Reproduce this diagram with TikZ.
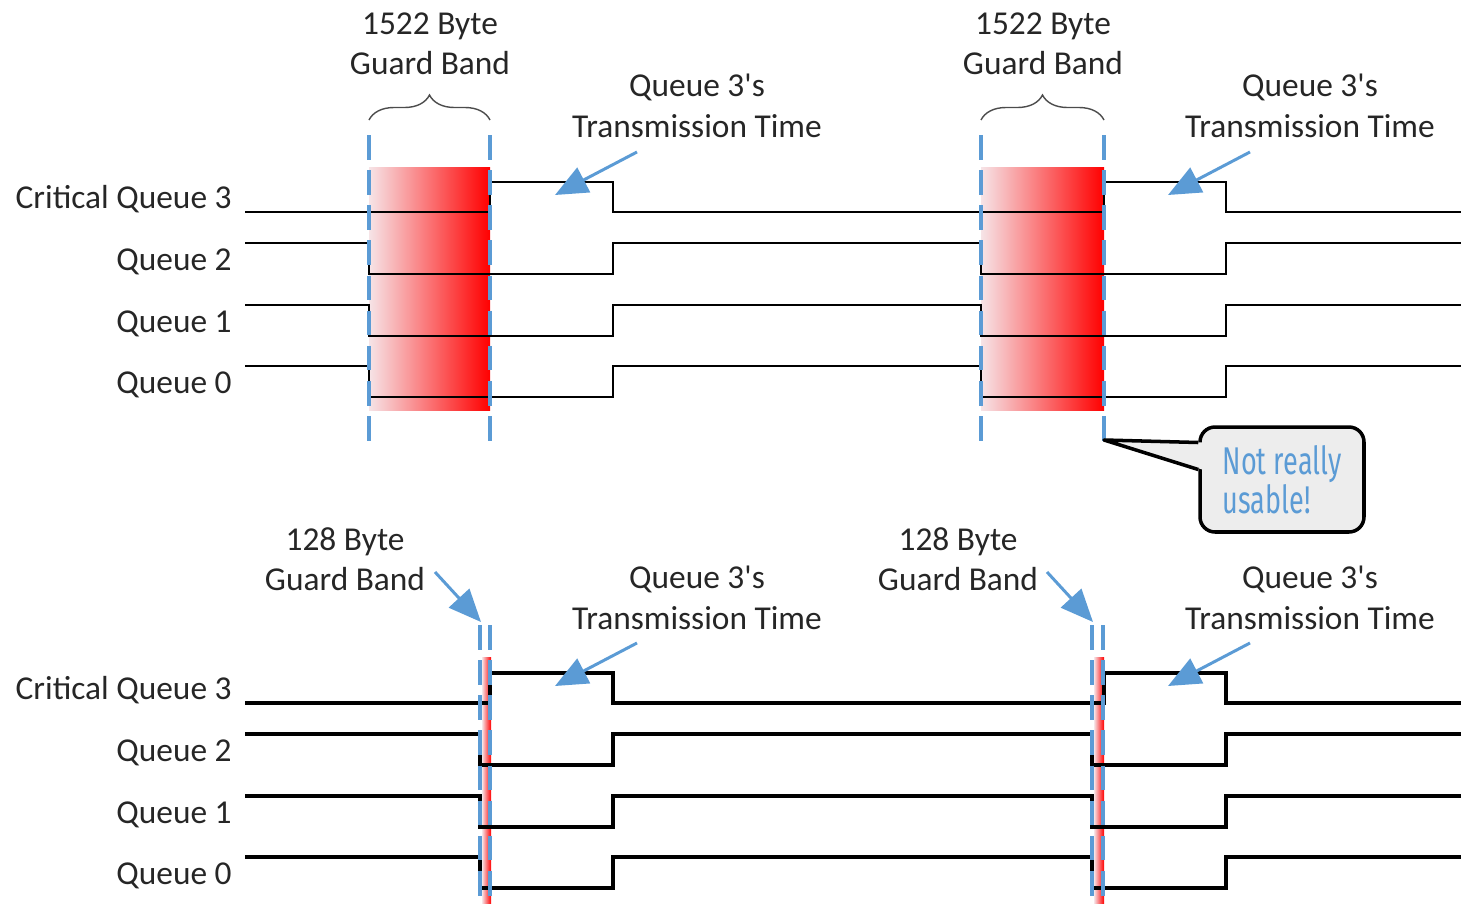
\documentclass[tikz,border=0pt]{standalone}
\usepackage{fontspec}
\setmainfont{Carlito}
\newfontfamily\notefont[FakeStretch=0.7]{Fira Sans}
\usetikzlibrary{arrows.meta,decorations.pathreplacing,calc}
\definecolor{gbblue}{HTML}{5B9BD5}
\definecolor{notegray}{HTML}{EDEDED}
\definecolor{bandleft}{RGB}{246,228,231}
\definecolor{bandmid}{RGB}{215,105,115}
\tikzset{
  lbl/.style={font=\fontsize{19}{23}\selectfont,text=black!85},
  qname/.style={lbl,anchor=base east,inner sep=0pt},
  twoline/.style={lbl,align=center},
  band/.style={shading=axis,left color=bandleft,middle color=bandmid,right color=red},
  guard/.style={gbblue,line width=2pt,dash pattern=on 14pt off 6pt},
  brc/.style={decorate,decoration={brace,amplitude=0.5cm},line width=0.8pt,black!70},
  wave/.style={black,line width=#1},
  wave/.default=1.2pt,
  ptr/.style={gbblue,line width=1.7pt,-{Triangle[length=6.5mm,width=5.5mm]}},
  note/.style={draw,line width=2pt,fill=notegray,rounded corners=0.3cm,minimum width=3.28cm,minimum height=2.1cm,
    align=left,text=gbblue,font=\notefont\fontsize{22}{20.5}\selectfont}
}
\newcommand{\qtx}{Queue 3\textquotesingle s\\Transmission Time}

\begin{document}
\begin{tikzpicture}[x=0.02cm,y=-0.02cm]
\useasboundingbox (0,0) rectangle (1461,903);

% guard bands (red)
\foreach \ga/\gb in {369/490,981/1104}
  \shade[band] (\ga,167) rectangle (\gb,410);
\foreach \ga/\gb in {482/491,1094/1104}
  \shade[band] (\ga,657) rectangle (\gb,903);

% queue gate states
\foreach \dy/\ga/\gb/\gc/\gd/\lw in {0/369/490/981/1104/1.2pt,491/480/490/1092/1104/2pt}{
  \begin{scope}[shift={(0,\dy)}]
    \draw[wave=\lw] (245,212) -| (\gb,182) -| (613,212) -| (\gd,182) -| (1226,212) -- (1461,212);
    \foreach \h in {243,305,366}
      \draw[wave=\lw] (245,\h) -| (\ga,\h+31) -| (613,\h) -| (\gc,\h+31) -| (1226,\h) -- (1461,\h);
  \end{scope}
}

% dashed band edges
\foreach \x in {369,490,981,1104}
  \draw[guard] (\x,135) -- (\x,442);
\foreach \x in {480,490,1092,1103}
  \draw[guard] (\x,625) -- (\x,903);

\draw[brc] (369,120) -- (490,120);
\draw[brc] (981,120) -- (1104,120);

% queue names
\foreach \dy/\p in {0/top,491/bot}{
  \node[qname] (q3\p) at (232,208+\dy) {Critical Queue 3};
  \node[qname] (q2\p) at (232,270+\dy) {Queue 2};
  \node[qname] (q1\p) at (232,332+\dy) {Queue 1};
  \node[qname] (q0\p) at (232,393+\dy) {Queue 0};
}

\node[twoline] (gbig1) at (430,44) {1522 Byte\\Guard Band};
\node[twoline] (gbig2) at (1043,44) {1522 Byte\\Guard Band};
\node[twoline] (tx1) at (697,106) {\qtx};
\node[twoline] (tx2) at (1310,106) {\qtx};
\node[twoline] (gsml1) at (345,559) {128 Byte\\Guard Band};
\node[twoline] (gsml2) at (958,559) {128 Byte\\Guard Band};
\node[twoline] (tx3) at (697,598) {\qtx};
\node[twoline] (tx4) at (1310,598) {\qtx};

% arrows
\coordinate (tx1s) at (637,152);  \coordinate (tx1e) at (555,195);
\coordinate (tx2s) at (1250,152); \coordinate (tx2e) at (1168,195);
\coordinate (tx3s) at (637,643);  \coordinate (tx3e) at (555,686);
\coordinate (tx4s) at (1250,643); \coordinate (tx4e) at (1168,686);
\coordinate (gs1s) at (435,572);  \coordinate (gs1e) at (481,622);
\coordinate (gs2s) at (1047,572); \coordinate (gs2e) at (1093,622);
\foreach \a in {tx1,tx2,tx3,tx4,gs1,gs2}
  \draw[ptr] (\a s) -- (\a e);

% callout
\node[note] (usable) at (1282,479.5) {Not really\\usable!};
\coordinate (usetip) at (1104,440);
\fill[notegray] (usetip) -- ($(usable.west)+(4,-37)$) -- ($(usable.west)+(4,-10)$) -- cycle;
\draw[line width=2pt,line join=round] ($(usable.west)+(0,-37)$) -- (usetip) -- ($(usable.west)+(0,-10)$);
\end{tikzpicture}
\end{document}
